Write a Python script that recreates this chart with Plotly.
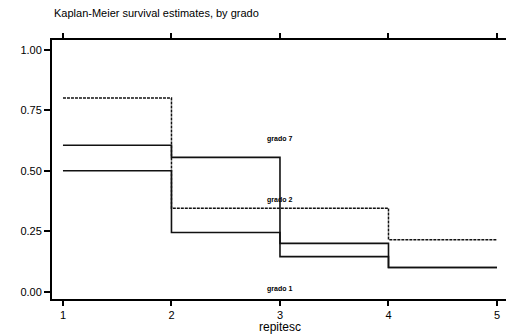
import plotly.graph_objects as go

times = [1, 2, 3, 4, 5]
surv_a = [0.80, 0.345, 0.345, 0.215, 0.215]
surv_b = [0.605, 0.555, 0.20, 0.10, 0.10]
surv_c = [0.50, 0.245, 0.145, 0.10, 0.10]

label_text = ["grado 7", "grado 2", "grado 1"]
label_x = [3, 3, 3]
label_y = [0.63, 0.38, 0.01]

x_ticks = [1, 2, 3, 4, 5]
y_ticks = [0.0, 0.25, 0.50, 0.75, 1.00]

fig = go.Figure()
fig.add_trace(go.Scatter(x=times, y=surv_a, mode="lines", line_shape="hv",
                         line=dict(color="#111", width=1.5, dash="3px,1px")))
fig.add_trace(go.Scatter(x=times, y=surv_b, mode="lines", line_shape="hv",
                         line=dict(color="#111", width=1.6)))
fig.add_trace(go.Scatter(x=times, y=surv_c, mode="lines", line_shape="hv",
                         line=dict(color="#111", width=1.6)))

for t, x, y in zip(label_text, label_x, label_y):
    fig.add_annotation(x=x, y=y, text="<b>" + t + "</b>", showarrow=False, xanchor="center",
                       yanchor="middle",
                       font=dict(family="Liberation Sans Narrow, Liberation Sans", size=7, color="#000"))

fig.add_annotation(xref="paper", yref="paper", x=0, y=1, yshift=27, text="Kaplan-Meier survival estimates, by grado",
                   showarrow=False, xanchor="left", yanchor="middle",
                   font=dict(family="Liberation Sans", size=11, color="#000"))
fig.add_annotation(xref="x", yref="paper", x=3, y=0, yshift=-28, text="repitesc",
                   showarrow=False, xanchor="center", yanchor="middle",
                   font=dict(family="Liberation Sans", size=12, color="#000"))

fig.update_layout(
    width=506, height=334,
    margin=dict(l=52, r=0, t=40, b=35),
    paper_bgcolor="white", plot_bgcolor="white",
    showlegend=False,
    font=dict(family="Liberation Sans", color="#000"),
)
fig.update_xaxes(range=[0.899, 5.083], tickvals=x_ticks, ticktext=[str(v) for v in x_ticks],
                 showgrid=False, zeroline=False, showline=True, linecolor="#000", linewidth=2,
                 mirror="ticks", ticks="outside", ticklen=5, tickwidth=1.5, tickcolor="#000",
                 tickfont=dict(size=11))
fig.update_yaxes(range=[-0.030, 1.040], tickvals=y_ticks, tickformat=".2f",
                 showgrid=False, zeroline=False, showline=True, linecolor="#000", linewidth=2,
                 ticks="outside", ticklen=6, tickwidth=1.5, tickcolor="#000",
                 tickfont=dict(size=11))

fig.write_html("out.html")
